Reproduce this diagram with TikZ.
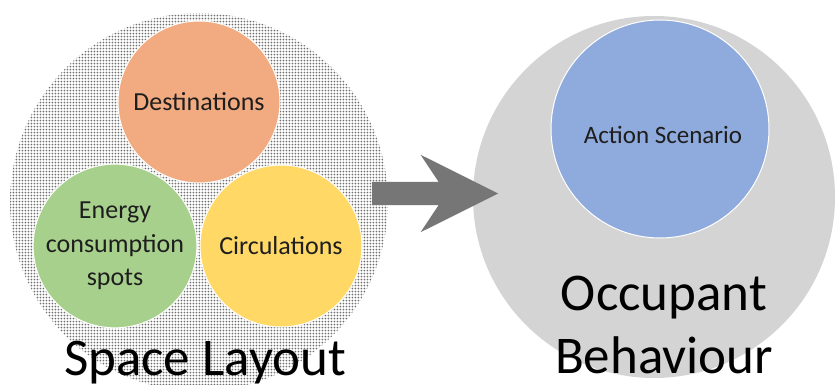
\documentclass[tikz,border=0pt]{standalone}
\usepackage{fontspec}
\setmainfont{Carlito}
\usetikzlibrary{shapes.arrows,patterns.meta}
\definecolor{dotgray}{RGB}{112,112,112}
\definecolor{lightgrayfill}{RGB}{212,212,212}
\definecolor{arrowgray}{RGB}{118,118,118}
\definecolor{orangefill}{RGB}{242,171,128}
\definecolor{greenfill}{RGB}{168,208,141}
\definecolor{yellowfill}{RGB}{255,216,102}
\definecolor{bluefill}{RGB}{143,170,220}
\definecolor{smalltext}{RGB}{30,30,30}
\tikzdeclarepattern{
  name=gridots,
  type=uncolored,
  bottom left={(0pt,0pt)},
  top right={(3.4pt,3.4pt)},
  tile size={(3.4pt,3.4pt)},
  code={\pgfpathcircle{\pgfpoint{1.7pt}{1.7pt}}{1.12pt}\pgfusepath{fill}}
}
\tikzset{
  bigcircle/.style={circle, inner sep=0pt, draw=none},
  smallcircle/.style={circle, inner sep=0pt, draw=white, line width=1pt,
    text=smalltext, align=center, font=\fontsize{26}{33.5}\selectfont},
  bigtext/.style={text=black, align=center, font=\fontsize{53}{63}\selectfont, inner sep=0pt},
  blockarrow/.style={single arrow, fill=arrowgray, draw=none, inner xsep=0pt,
    inner ysep=11.5pt, minimum height=126pt, single arrow head extend=27pt,
    single arrow tip angle=53, single arrow head indent=18pt}
}
\begin{document}
\begin{tikzpicture}[x=1pt,y=-1pt]
\useasboundingbox (0,0) rectangle (836,385);
\fill[white] (0,0) rectangle (836,385);
% left group
\node[bigcircle, minimum size=378pt, pattern={gridots}, pattern color=dotgray] (space) at (199,202) {};
\node[smallcircle, minimum size=162pt, fill=orangefill] (dest) at (199,102) {Destinations};
\node[smallcircle, minimum size=160pt, fill=greenfill] (energy) at (115,246) {Energy\\consumption\\spots};
\node[smallcircle, minimum size=162pt, fill=yellowfill] (circ) at (281,246) {Circulations};
\node[bigtext, anchor=base] (spacelabel) at (205,375) {Space Layout};
% right group
\node[bigcircle, minimum size=362pt, fill=lightgrayfill] (occ) at (654,197) {};
\node[smallcircle, minimum size=218pt, fill=bluefill] (action) at (660,129) {};
\node[text=smalltext, font=\fontsize{25}{30}\selectfont, inner sep=0pt] (actiontext) at (663,135) {Action Scenario};
\node[bigtext, anchor=base] (occlabel) at (664,373) {Occupant\\Behaviour};
% arrow
\coordinate (arrowtail) at (372,193.5);
\node[blockarrow, anchor=tail] (arrow) at (arrowtail) {};
\end{tikzpicture}
\end{document}
